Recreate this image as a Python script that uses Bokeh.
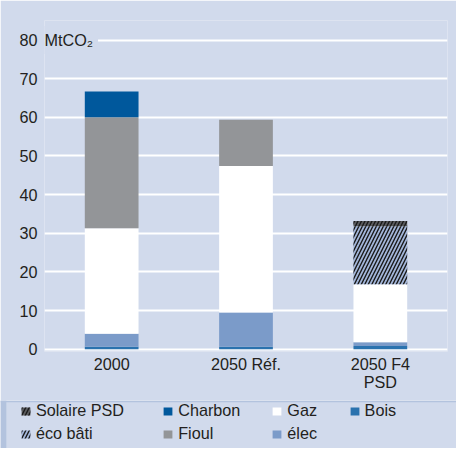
from bokeh.plotting import figure
from bokeh.layouts import column
from bokeh.models import (ColumnDataSource, FactorRange, Range1d, FixedTicker, Legend,
                          LegendItem, Label, BoxAnnotation)
from bokeh.transform import stack
from bokeh.embed import file_html
from bokeh.resources import INLINE

# ---- data (MtCO2) ----
categories = ["2000", "2050 Réf.", "2050 F4\nPSD"]
bois = [0.6, 0.6, 0.8]
elec = [3.4, 8.9, 1.0]
gaz = [27.3, 37.9, 15.0]
fioul = [28.7, 12.0, 0.0]
charbon = [6.7, 0.0, 0.0]
eco_bati = [0.0, 0.0, 15.0]
solaire_psd = [0.0, 0.0, 1.4]
y_ticks = [0, 10, 20, 30, 40, 50, 60, 70, 80]

BG = "#d1daec"
FRAME = "#b3c3de"
TXT = "#231f20"
FONT = "Liberation Sans"
FS = "16.2px"

src = ColumnDataSource(dict(cat=categories, bois=bois, elec=elec, gaz=gaz, fioul=fioul,
                            charbon=charbon, eco=eco_bati, solaire=solaire_psd))

W = 456
HA, HB = 400, 48
FL, FR, FT = 44, 9, 20
FRAME_BOTTOM = 351
p = figure(width=W, height=HA, x_range=FactorRange(*categories, range_padding=0),
           y_range=Range1d(-0.6, 85.05), output_backend="svg", toolbar_location=None,
           min_border_left=FL, min_border_right=FR, min_border_top=FT,
           min_border_bottom=HA - FRAME_BOTTOM)
p.frame_align = False
p.background_fill_color = BG
p.border_fill_color = BG
p.outline_line_color = None

series = [
    ("bois", "Bois", "#2a72ae", None),
    ("elec", "élec", "#7b9bc9", None),
    ("gaz", "Gaz", "#ffffff", None),
    ("fioul", "Fioul", "#939598", None),
    ("charbon", "Charbon", "#00589c", None),
    ("eco", "éco bâti", "#a3b6da", "/"),
    ("solaire", "Solaire PSD", "#5a5b5e", "/"),
]
HATCH = dict(hatch_color="#1a1a1a", hatch_scale=7, hatch_weight=1.4)
names = [s[0] for s in series]
for i, (key, lab, col, hp) in enumerate(series):
    kw = dict(hatch_pattern=hp, **HATCH) if hp else {}
    p.vbar(x="cat", width=0.4, bottom=stack(*names[:i]), top=stack(*names[:i + 1]),
           source=src, fill_color=col, line_color=None, **kw)

# axes
p.yaxis.ticker = FixedTicker(ticks=y_ticks)
p.yaxis.axis_line_color = None
p.yaxis.major_tick_line_color = None
p.yaxis.minor_tick_line_color = None
p.yaxis.major_tick_out = 0
p.yaxis.major_tick_in = 0
p.yaxis.major_label_standoff = 7
p.xaxis.axis_line_color = None
p.xaxis.major_tick_line_color = None
p.xaxis.major_tick_out = 0
p.xaxis.major_tick_in = 0
p.xaxis.major_label_standoff = 3
p.xaxis.major_label_text_line_height = 1.05
for ax in (p.xaxis, p.yaxis):
    ax.major_label_text_font = FONT
    ax.major_label_text_font_size = FS
    ax.major_label_text_color = TXT
p.xgrid.grid_line_color = None
p.ygrid.grid_line_color = "white"
p.ygrid.grid_line_width = 2

# unit next to the 80 tick
p.add_layout(Label(x=-5, x_units="screen", y=80, y_units="data", text="MtCO₂",
                   text_font=FONT, text_font_size=FS, text_color=TXT,
                   text_baseline="middle", text_align="left",
                   background_fill_color=BG, padding=5))


def band(fig, h, left, right, top, bottom, color):
    # top/bottom given from the top edge; canvas y units count from the bottom
    fig.add_layout(BoxAnnotation(left=left, right=right, top=h - top, bottom=h - bottom,
                                 left_units="canvas", right_units="canvas",
                                 top_units="canvas", bottom_units="canvas",
                                 fill_color=color, fill_alpha=1, line_color=None))


band(p, HA, 0, 5.8, 0, HA, FRAME)
band(p, HA, 0, W, 0, 5.8, FRAME)
band(p, HA, 11.6, 447.3, 392.4, 394.4, "white")

# ---- legend panel ----
q = figure(width=W, height=HB, x_range=Range1d(0, W), y_range=Range1d(0, HB),
           output_backend="svg", toolbar_location=None, x_axis_location=None,
           y_axis_location=None, min_border=0)
q.frame_align = False
q.background_fill_color = BG
q.border_fill_color = BG
q.outline_line_color = None
q.xgrid.grid_line_color = None
q.ygrid.grid_line_color = None
band(q, HB, 0, 5.8, 0, HB, FRAME)
band(q, HB, 0, W, HB - 1.7, HB, FRAME)

# zero-size swatch renderers that only carry the legend styling
swatch = {}
for key, lab, col, hp in series:
    kw = dict(hatch_pattern=hp, **HATCH) if hp else {}
    swatch[lab] = q.vbar(x=[0], bottom=[0], top=[0], width=0, fill_color=col,
                         line_color=None, **kw)

columns = [(["Solaire PSD", "éco bâti"], 21.0), (["Charbon", "Fioul"], 163.3),
           (["Gaz", "élec"], 272.4), (["Bois"], 349.7)]
TOP = 0.8
for labels, xleft in columns:
    items = [LegendItem(label=l, renderers=[swatch[l]]) for l in labels]
    n = len(labels)
    height = n * 20 + (n - 1) * 3
    leg = Legend(items=items, location=(xleft - 1.1, HB - (TOP + height)),
                 orientation="vertical", glyph_width=11, glyph_height=10, label_standoff=5,
                 label_height=20, spacing=3, padding=0, margin=0,
                 background_fill_alpha=0, border_line_alpha=0,
                 label_text_font=FONT, label_text_font_size=FS, label_text_color=TXT)
    q.add_layout(leg)

layout = column(p, q, spacing=0)
open("out.html", "w").write(file_html(layout, INLINE))
